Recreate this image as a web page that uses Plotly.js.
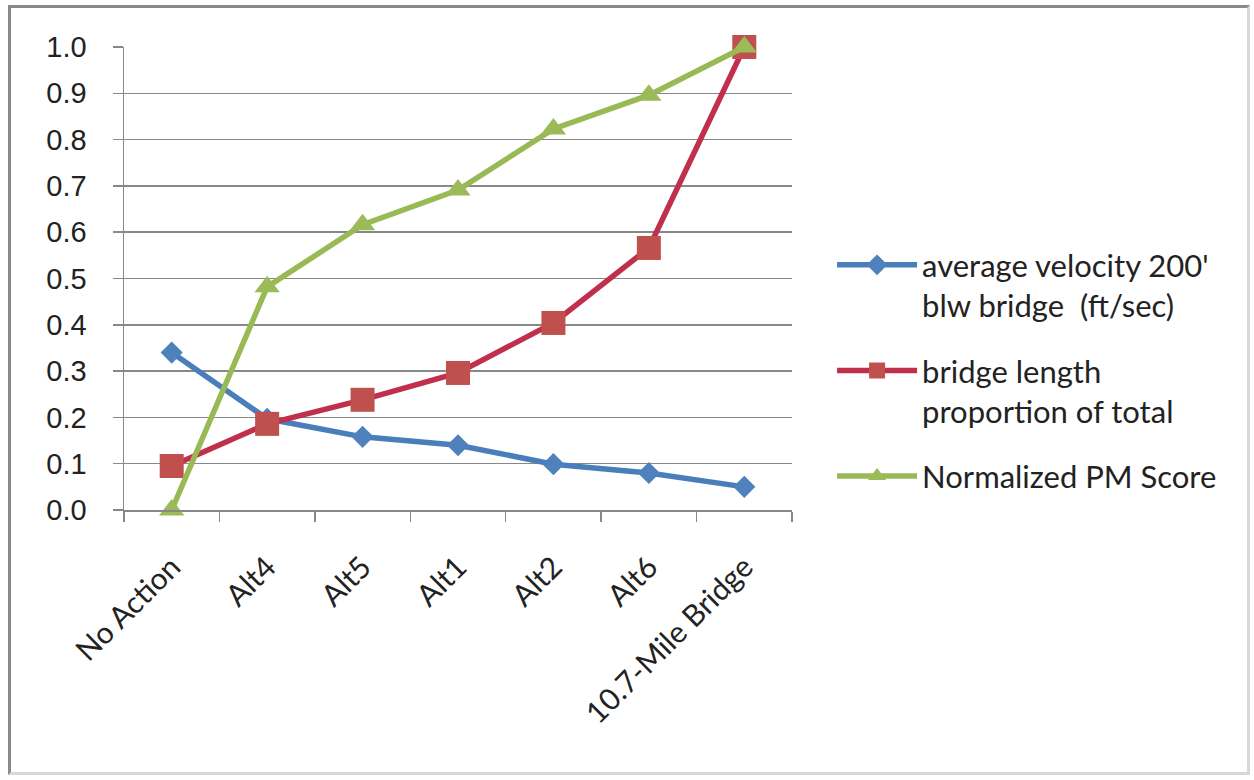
<!DOCTYPE html>
<html><head><meta charset="utf-8">
<script src="https://cdn.plot.ly/plotly-3.0.1.min.js"></script>
<style>
html,body{margin:0;padding:0;background:#fff;}
#frame{position:absolute;left:8px;top:5px;width:1242px;height:770px;border:3px solid #8a8a8a;border-right-color:#d8d8d8;border-bottom-color:#d8d8d8;box-sizing:border-box;pointer-events:none;z-index:10;}
#chart{width:1254px;height:780px;}
</style></head>
<body>
<div id="frame"></div>
<div id="chart"></div>
<script>
const categories = ["No Action","Alt4","Alt5","Alt1","Alt2","Alt6","10.7-Mile Bridge"];
const velocity = [0.34, 0.197, 0.158, 0.14, 0.099, 0.08, 0.05];
const bridgeLength = [0.095, 0.186, 0.238, 0.296, 0.404, 0.566, 1.0];
const pmScore = [0.0, 0.482, 0.616, 0.691, 0.823, 0.896, 1.0];
const seriesNames = ["average velocity 200'<br>blw bridge  (ft/sec)", "bridge length<br>proportion of total", "Normalized PM Score"];
const yTicks = [0,0.1,0.2,0.3,0.4,0.5,0.6,0.7,0.8,0.9,1.0];

const traces = [
  {x: categories, y: velocity, name: seriesNames[0], legendgroup: 'g1', type: 'scatter', mode: 'lines+markers',
   line: {color: '#4A7EBB', width: 5.5}, marker: {symbol: 'diamond', size: 17, color: '#4F81BD'}, cliponaxis: false},
  {x: categories, y: bridgeLength, name: seriesNames[1], legendgroup: 'g2', type: 'scatter', mode: 'lines+markers',
   line: {color: '#C0304D', width: 5.5}, marker: {symbol: 'square', size: 24, color: '#C0504D'}, cliponaxis: false},
  {x: categories, y: pmScore, name: seriesNames[2], legendgroup: 'g3', type: 'scatter', mode: 'lines+markers',
   line: {color: '#98B954', width: 5.5}, marker: {symbol: 'triangle-up', size: 22, color: '#9BBB59'}, cliponaxis: false}
];

const layout = {
  width: 1254, height: 780,
  margin: {l: 124, r: 462, t: 47, b: 270},
  paper_bgcolor: '#fff', plot_bgcolor: '#fff',
  showlegend: true,
  legend: {x: 1.06, xanchor: 'left', y: 0.587, yanchor: 'top', valign: 'top',
    font: {family: 'Lato, sans-serif', size: 31, color: '#222'},
    itemwidth: 80, tracegroupgap: 22, bgcolor: 'rgba(0,0,0,0)'},
  xaxis: {type: 'category', tickson: 'boundaries', ticks: 'outside', ticklen: 10, tickcolor: '#888',
    tickwidth: 1.5, showline: true, linecolor: '#888', linewidth: 1.5, showgrid: false,
    tickangle: -45, ticklabelstandoff: 26,
    tickfont: {family: 'Lato, sans-serif', size: 30, color: '#222'},
    range: [-0.5, 6.5], zeroline: false},
  yaxis: {range: [0, 1], tickvals: yTicks, tickformat: '.1f', ticks: 'outside', ticklen: 10,
    tickcolor: '#888', tickwidth: 1.5, showline: true, linecolor: '#888', linewidth: 1.5,
    showgrid: true, gridcolor: '#888', gridwidth: 1.5, zeroline: false,
    ticklabelstandoff: 20,
    tickfont: {family: 'Liberation Sans, Arial, sans-serif', size: 29, color: '#222'}}
};

Plotly.newPlot('chart', traces, layout, {displayModeBar: false, staticPlot: true});
</script>
</body></html>
